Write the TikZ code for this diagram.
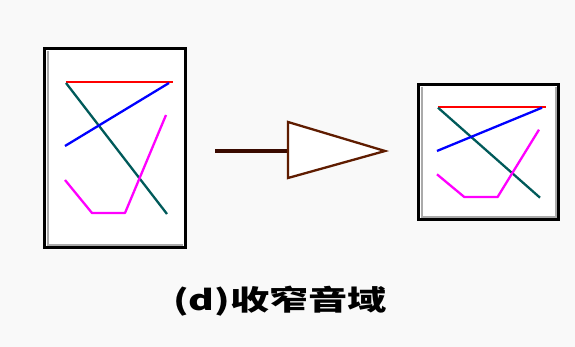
\documentclass[tikz,border=0pt]{standalone}
\usepackage{fontspec,graphicx}
\newfontfamily\cjkfont{Noto Sans CJK SC}
\definecolor{rgred}{RGB}{255,0,0}
\definecolor{rgblue}{RGB}{0,0,255}
\definecolor{rgteal}{RGB}{0,90,90}
\definecolor{rgmagenta}{RGB}{255,0,255}
\definecolor{bevelgray}{RGB}{170,170,170}
\definecolor{stembrown}{RGB}{58,10,0}
\definecolor{hornbrown}{RGB}{95,28,0}
\definecolor{paper}{RGB}{249,249,249}
\usetikzlibrary{calc}

\begin{document}
\begin{tikzpicture}[x=1pt, y=-1pt,
  framebox/.style={draw=black, line width=3pt, fill=white},
  bevel/.style={draw=bevelgray, line width=2pt},
  trace/.style={line width=2.3pt, line join=round},
  rangelines/.pic={
    \draw[trace, rgred] (0,0) -- (107,0);
    \draw[trace, rgteal] (0,1) -- (101,132);
    \draw[trace, rgblue] (-1,64) -- (103,1);
    \draw[trace, rgmagenta] (100,33) -- (59,131) -- (26,131) -- (-1,98);
  }]

\fill[paper] (0,0) rectangle (575,347);
\useasboundingbox (0,0) rectangle (575,347);

% Wide range
\draw[framebox] (44.5,48.5) rectangle (185.5,247.5);
\draw[bevel] (48,51) -- (48,245) -- (183,245);
\pic at (66,82) {rangelines};

% Narrowing arrow
\coordinate (tail) at (215,151);
\coordinate (base) at (288,151);
\draw[stembrown, line width=4pt] (tail) -- (base);
\draw[hornbrown, line width=2.3pt, line join=miter, fill=white]
  (288,122) -- (385,151) -- (288,178) -- cycle;

% Narrow range
\draw[framebox] (418.5,84.5) rectangle (558.5,219.5);
\draw[bevel] (422,87) -- (422,217) -- (556,217) -- (556,87);
\pic[yscale=0.687, xscale=1.01] at (438,107) {rangelines};

\node[inner sep=0pt] (caption) at (280,301)
  {\scalebox{1.4}[1]{\cjkfont\fontsize{28}{30}\selectfont\bfseries (d)收窄音域}};

\end{tikzpicture}
\end{document}
